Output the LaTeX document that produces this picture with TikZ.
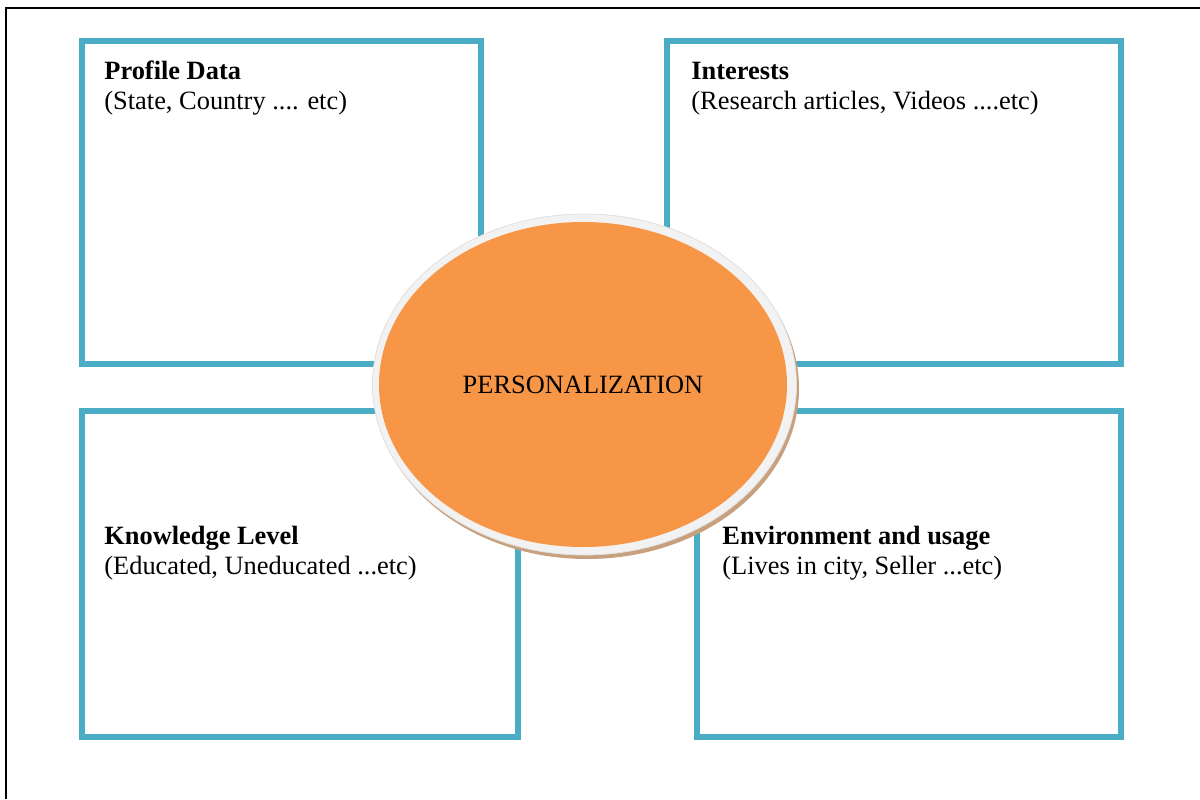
\documentclass[tikz,border=0pt]{standalone}
\usepackage{fontspec}
\setmainfont{Liberation Serif}
\usetikzlibrary{positioning,shapes.geometric}

\definecolor{panelblue}{RGB}{75,172,198}
\definecolor{coreorange}{RGB}{247,150,70}
\definecolor{ringgray}{RGB}{242,242,242}
\definecolor{ringshade}{RGB}{201,160,125}

\tikzset{
    panel/.style={draw=panelblue, line width=3pt},
    head/.style={font=\fontsize{13.2}{15}\selectfont\bfseries, inner sep=0pt, anchor=base west},
    sub/.style={font=\fontsize{13.2}{15}\selectfont, inner sep=0pt, anchor=base west},
    ring/.style={ellipse, fill=ringgray, draw=gray!25, line width=0.4pt,
        minimum width=212pt, minimum height=170.5pt, inner sep=0pt},
    core/.style={ellipse, fill=coreorange, minimum width=204pt, minimum height=162.5pt,
        inner sep=0pt, font=\fontsize{13.2}{15}\selectfont}
}

\begin{document}
\begin{tikzpicture}[x=0.5pt, y=-0.5pt]
    \useasboundingbox (0,0) rectangle (1200,799);
    % page frame
    \draw[line width=1pt] (6,799) -- (6,8) -- (1200,8);

    % the four panels
    \draw[panel] (81.5,40.5) rectangle (481,364);
    \draw[panel] (667,40.5) rectangle (1121,364);
    \draw[panel] (81.5,411) rectangle (518,736.5);
    \draw[panel] (697,411) rectangle (1121,736.5);

    % centre disc with its rim and shadow
    \node[ring, fill=ringshade, draw=none] (coreShadow) at (587,388.5) {};
    \node[ring] (coreRing) at (584.5,384.5) {};
    \node[core] (core) at (583,384.5) {PERSONALIZATION};

    \node[head] (profile) at (104,79) {Profile Data};
    \node[sub] (profileSub) at ([yshift=-15pt]profile.base west) {(State, Country .... etc)};
    \node[head] (interests) at (691,79) {Interests};
    \node[sub] (interestsSub) at ([yshift=-15pt]interests.base west) {(Research articles, Videos ....etc)};
    \node[head] (knowledge) at (104,544) {Knowledge Level};
    \node[sub] (knowledgeSub) at ([yshift=-15pt]knowledge.base west) {(Educated, Uneducated ...etc)};
    \node[head] (environment) at (722,544) {Environment and usage};
    \node[sub] (environmentSub) at ([yshift=-15pt]environment.base west) {(Lives in city, Seller ...etc)};
\end{tikzpicture}
\end{document}
